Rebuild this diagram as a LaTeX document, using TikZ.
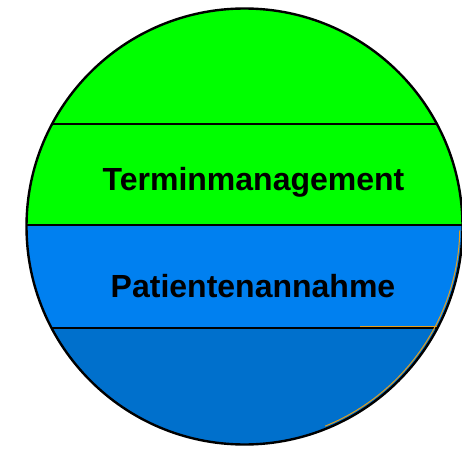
\documentclass[tikz,border=0pt]{standalone}
\usepackage{fontspec}
\setmainfont{Liberation Sans}
\usetikzlibrary{calc}
\definecolor{bandgreen}{RGB}{0,255,0}
\definecolor{bandblue}{RGB}{0,128,240}
\definecolor{banddark}{RGB}{0,112,204}
\definecolor{rimgold}{RGB}{230,160,30}
\begin{document}
\begin{tikzpicture}[x=1pt,y=-1pt,
  divider/.style={line width=2pt,black},
  label/.style={font=\bfseries\fontsize{32}{36}\selectfont,anchor=base}]
\useasboundingbox (0,0) rectangle (462,449);
\coordinate (c) at (244.5,226.5);
\def\R{218}
% bands clipped to the disc
\begin{scope}
  \clip (c) circle[radius=\R];
  \fill[bandgreen] (0,0) rectangle (462,225);
  \fill[bandblue] (0,225) rectangle (462,328);
  \fill[banddark] (0,328) rectangle (462,449);
  \draw[rimgold,line width=0.9pt] (360,326.3) -- (462,326.3);
  \draw[divider] (0,124) -- (462,124);
  \draw[divider] (0,225) -- (462,225);
  \draw[divider] (0,328) -- (462,328);
\end{scope}
% thin gold rim on the lower right
\draw[rimgold,line width=1pt] ($(c)+(1:215.3)$) arc[start angle=1,end angle=68,radius=215.3];
\draw[line width=2.4pt] (c) circle[radius=\R];
\node[label] (t1) at (253.5,190) {Terminmanagement};
\node[label] (t2) at (253,297) {Patientenannahme};
\end{tikzpicture}
\end{document}
